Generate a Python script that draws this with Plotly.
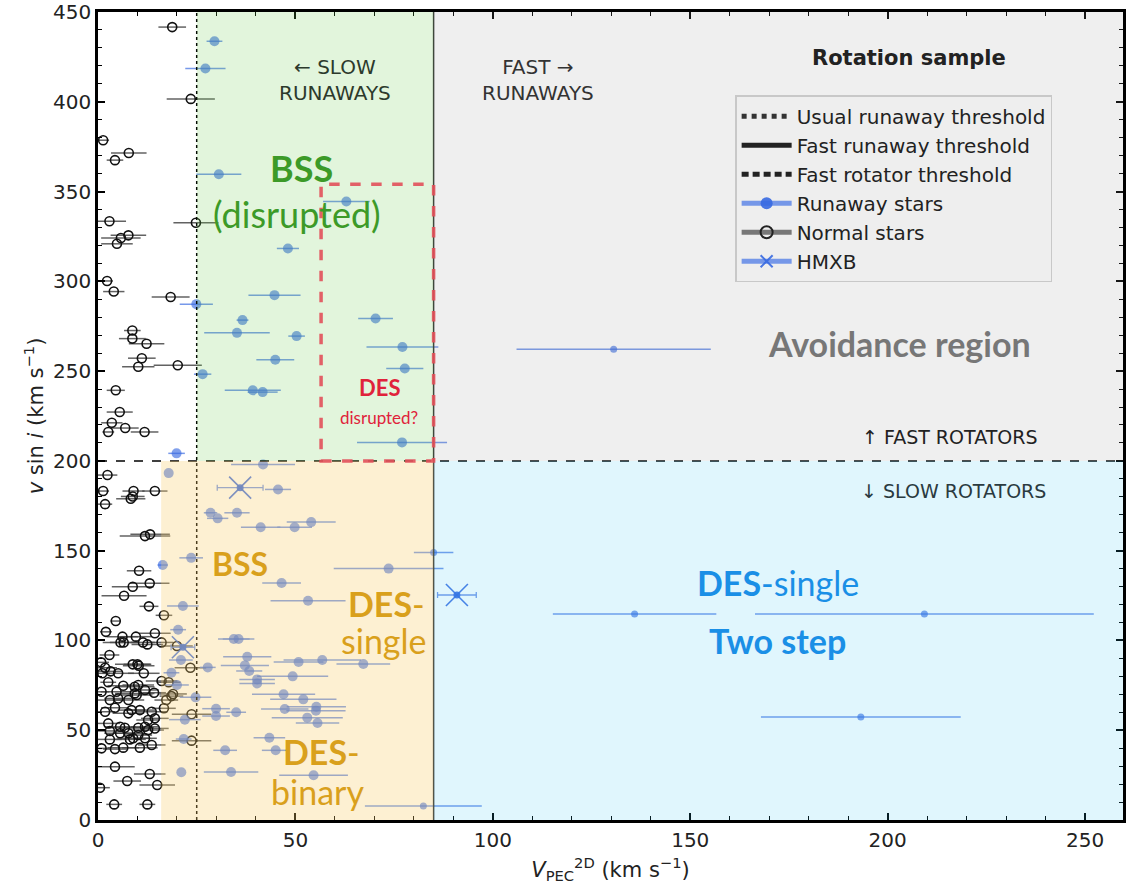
import plotly.graph_objects as go

# ---- Runaway stars: 2D peculiar velocity, v sin i, velocity uncertainty ----
run_x = [29.5, 27.2, 30.6, 62.9, 48.1, 44.7, 24.9, 36.6, 35.2, 50.3, 70.3, 77.1, 44.9, 77.7,
         26.5, 39.2, 41.7, 77.0, 19.9, 130.6,
         41.8, 17.9, 45.6, 28.5, 30.3, 35.2, 41.2, 49.8, 54.0, 85.0, 23.6, 16.4, 73.6, 46.5,
         53.2, 21.5, 20.3, 34.4, 35.6, 37.8, 27.8, 37.2, 38.3, 50.8, 56.8, 67.2, 40.3, 40.3,
         49.3, 47.0, 52.0, 29.9, 29.9, 35.0, 47.3, 55.3, 55.2, 53.0, 55.6, 43.4, 45.0, 32.2,
         33.7, 54.6, 82.4, 21.0, 18.6, 20.0, 24.7, 22.0, 21.7, 21.1, 135.9, 209.3, 193.2]
run_y = [433.7, 418.5, 359.6, 344.5, 318.3, 292.3, 287.3, 278.4, 271.3, 269.5, 279.3, 263.4, 256.3, 251.5,
         248.3, 239.3, 238.3, 210.3, 204.2, 262.2,
         198.0, 193.2, 184.1, 171.1, 168.0, 171.1, 163.0, 163.0, 165.9, 149.0, 146.0, 142.0, 140.0, 132.0,
         122.1, 119.2, 106.0, 100.8, 100.8, 90.9, 85.0, 86.1, 83.0, 88.0, 89.1, 86.9, 78.3, 76.0,
         80.0, 70.0, 67.2, 62.0, 57.9, 60.0, 61.8, 63.1, 60.9, 57.0, 54.0, 45.8, 38.8, 38.8,
         26.7, 24.9, 7.8, 89.1, 82.0, 75.2, 68.3, 55.9, 45.1, 26.6, 114.7, 114.7, 57.3]
run_err = [2.0, 5.1, 5.7, 5.9, 2.8, 6.6, 4.2, 1.5, 8.3, 2.1, 4.4, 9.1, 4.8, 4.7,
           2.2, 7.1, 3.8, 11.4, 2.1, 24.6,
           8.1, 0.0, 3.3, 1.7, 2.7, 3.2, 5.0, 4.4, 6.2, 5.0, 3.0, 1.3, 13.9, 4.9,
           9.5, 4.0, 2.0, 4.0, 4.0, 6.1, 2.0, 6.1, 3.3, 6.3, 9.8, 6.8, 4.5, 4.5,
           9.0, 8.0, 8.4, 3.5, 3.5, 2.5, 6.0, 7.5, 7.5, 9.0, 5.5, 4.0, 3.5, 3.0,
           6.9, 8.7, 14.8, 3.0, 2.0, 3.0, 4.0, 4.0, 2.0, 0.0, 20.7, 42.9, 25.3]

# ---- Normal (non-runaway) stars ----
norm_x = [18.8, 23.5, 1.3, 7.8, 4.3, 2.9, 24.8, 7.7, 5.8, 4.8, 2.3, 4.0, 18.4, 8.7, 8.7, 12.3,
          11.1, 10.2, 20.2, 4.5, 5.5, 3.5, 6.9, 2.6, 11.8,
          2.4, 1.3, 9.0, 14.4, 8.3, 8.8, 1.8, 11.9, 13.2, 10.4, 8.8, 13.1, 6.6, 12.9, 16.7, 4.5,
          2.0, 6.2, 9.6, 14.4, 5.7, 6.5, 11.4, 12.5, 16.1, 20.0, 2.9, 0.8, 1.8, 3.2, 5.1, 8.8,
          10.0, 10.3, 11.6, 1.1, 23.4, 2.6, 6.4, 9.3, 10.2, 11.9, 14.2, 16.1, 17.9, 0.9, 4.7,
          9.3, 19.0, 3.0, 5.1, 7.7, 9.8, 17.3, 18.6, 1.8, 4.3, 7.7, 8.5, 10.6, 13.6, 14.4, 12.7,
          16.7, 23.7, 2.6, 5.6, 6.8, 10.2, 11.9, 12.7, 14.4, 3.0, 5.6, 7.7, 10.2, 11.9, 8.9,
          3.0, 8.1, 13.6, 6.4, 10.6, 0.9, 4.3, 23.7, 4.3, 13.1, 15.0, 7.4, 0.5, 4.1, 12.5]
norm_y = [441.6, 401.6, 378.6, 371.5, 367.5, 333.5, 332.6, 325.6, 324.1, 320.9, 300.2, 294.3, 291.3,
          272.6, 268.1, 265.2, 257.2, 252.4, 253.3, 239.3, 227.2, 221.2, 218.3, 216.1, 216.1,
          192.1, 183.2, 183.2, 183.2, 178.9, 180.2, 175.9, 158.1, 159.1, 138.8, 129.9, 131.8, 124.9,
          119.0, 114.0, 110.8, 104.8, 102.1, 102.1, 104.0, 98.9, 98.9, 98.9, 97.8, 98.9, 96.9, 91.9,
          87.8, 84.8, 82.8, 81.7, 86.7, 86.7, 85.9, 81.7, 81.7, 84.8, 76.7, 74.8, 74.2, 75.2, 72.4,
          70.9, 77.4, 76.7, 71.4, 71.4, 70.5, 70.2, 66.8, 67.7, 66.8, 69.6, 66.8, 69.0, 60.3, 62.5,
          59.4, 61.2, 61.2, 60.3, 56.6, 55.7, 62.2, 58.9, 53.8, 51.9, 51.4, 51.4, 51.9, 50.1, 51.0,
          49.6, 48.3, 48.3, 47.3, 45.5, 45.5, 44.9, 44.9, 41.8, 40.3, 40.3, 39.9, 39.5, 44.2, 29.7,
          25.6, 19.5, 21.7, 18.0, 8.7, 8.7]
norm_err = [3.5, 6.1, 1.5, 4.5, 2.1, 4.2, 5.7, 4.5, 5.0, 4.0, 1.5, 2.7, 4.8, 2.1, 3.4, 4.5,
            3.5, 4.1, 6.1, 2.3, 3.3, 2.7, 3.4, 1.5, 3.5,
            2.5, 1.5, 2.8, 3.2, 3.7, 3.0, 1.8, 6.4, 5.0, 3.1, 5.3, 5.0, 5.7, 2.4, 2.1, 1.3,
            1.5, 4.0, 4.0, 4.0, 4.5, 3.5, 3.0, 4.0, 3.0, 4.0, 2.5, 2.0, 3.0, 3.0, 4.0, 4.5,
            3.5, 4.0, 4.0, 2.0, 4.0, 2.0, 4.0, 5.0, 4.0, 3.5, 3.0, 4.0, 3.0, 2.0, 4.0,
            5.0, 3.5, 3.0, 3.5, 4.0, 4.0, 3.0, 3.0, 2.5, 3.5, 4.0, 3.5, 4.0, 4.0, 3.5, 3.0,
            3.0, 5.0, 3.0, 4.0, 4.5, 4.0, 3.5, 4.0, 3.5, 3.0, 4.0, 4.0, 3.5, 3.0, 4.0,
            3.0, 4.0, 3.5, 4.0, 4.5, 2.0, 3.0, 5.0, 5.0, 4.0, 4.5, 3.5, 2.5, 2.0, 2.0]

# ---- High-mass X-ray binaries ----
hmxb_x = [36.0, 21.5, 90.9]
hmxb_y = [185.1, 96.2, 125.3]
hmxb_err = [5.8, 3.0, 4.9]

# ---- Thresholds and region limits (km/s) ----
usual_runaway = 25
fast_runaway = 85
fast_rotator = 200
bss_min_v = 16
des_box = (56.5, 85.0, 200, 354)
x_max, y_max = 259.6, 450

BLUE = "rgba(55,105,225,0.9)"
BLUE_ERR = "rgba(95,135,230,0.85)"
LABEL_FONT = "Lato"
AX_FONT = "DejaVu Sans"

fig = go.Figure()

# normal stars
fig.add_trace(go.Scatter(
    x=norm_x, y=norm_y, mode="markers", showlegend=False,
    error_x=dict(type="data", array=norm_err, color="rgba(70,70,70,0.85)", thickness=1.5, width=0),
    marker=dict(symbol="circle-open", size=9, color="#111111", line=dict(width=1.6)),
))

# runaway stars (faster stars drawn with slightly smaller dots)
run_size = [7 if v > 80 else 10 for v in run_x]
fig.add_trace(go.Scatter(
    x=run_x, y=run_y, mode="markers", showlegend=False,
    error_x=dict(type="data", array=run_err, color=BLUE_ERR, thickness=1.5, width=0),
    marker=dict(symbol="circle", size=run_size, color=BLUE, line=dict(width=0)),
))

# HMXB
fig.add_trace(go.Scatter(
    x=hmxb_x, y=hmxb_y, mode="markers", showlegend=False,
    error_x=dict(type="data", array=hmxb_err, color=BLUE_ERR, thickness=1.3, width=3),
    marker=dict(symbol="x-thin", size=22, color=BLUE, line=dict(width=1.6, color=BLUE)),
))
fig.add_trace(go.Scatter(
    x=hmxb_x, y=hmxb_y, mode="markers", showlegend=False, hoverinfo="skip",
    marker=dict(symbol="circle", size=7, color=BLUE),
))

# legend entries
fig.add_trace(go.Scatter(x=[None], y=[None], mode="lines", name="Usual runaway threshold",
                         line=dict(color="#333", width=1.2, dash="dot")))
fig.add_trace(go.Scatter(x=[None], y=[None], mode="lines", name="Fast runaway threshold",
                         line=dict(color="#222", width=1.5)))
fig.add_trace(go.Scatter(x=[None], y=[None], mode="lines", name="Fast rotator threshold",
                         line=dict(color="#222", width=1.3, dash="7px,4px")))
fig.add_trace(go.Scatter(x=[None], y=[None], mode="lines+markers", name="Runaway stars",
                         line=dict(color=BLUE_ERR, width=1.2),
                         marker=dict(size=9, color=BLUE)))
fig.add_trace(go.Scatter(x=[None], y=[None], mode="lines+markers", name="Normal stars",
                         line=dict(color="#777", width=1.2),
                         marker=dict(symbol="circle-open", size=8, color="#222", line=dict(width=1.5))))
fig.add_trace(go.Scatter(x=[None], y=[None], mode="lines+markers", name="HMXB",
                         line=dict(color=BLUE_ERR, width=1.0),
                         marker=dict(symbol="x-thin", size=20, color=BLUE, line=dict(width=1.5, color=BLUE))))

shapes = []
# threshold lines (under the translucent regions)
shapes.append(dict(type="line", layer="above", x0=usual_runaway, x1=usual_runaway, y0=0, y1=y_max,
                   line=dict(color="black", width=1.5, dash="dot")))
shapes.append(dict(type="line", layer="above", x0=fast_runaway, x1=fast_runaway, y0=0, y1=y_max,
                   line=dict(color="#333", width=1.5)))
shapes.append(dict(type="line", layer="above", x0=0, x1=x_max, y0=fast_rotator, y1=fast_rotator,
                   line=dict(color="black", width=1.5, dash="dash")))

# translucent regions
regions = [
    (usual_runaway, fast_runaway, fast_rotator, y_max, "rgb(110,205,80)", 0.2),
    (bss_min_v, fast_runaway, 0, fast_rotator, "rgb(248,205,105)", 0.3),
    (fast_runaway, x_max + 5, fast_rotator, y_max, "rgb(148,148,148)", 0.15),
    (fast_runaway, x_max + 5, 0, fast_rotator, "rgb(48,195,242)", 0.15),
]
for x0, x1, y0, y1, col, op in regions:
    shapes.append(dict(type="rect", layer="above", x0=x0, x1=x1, y0=y0, y1=y1,
                       fillcolor=col, opacity=op, line=dict(width=0)))

# disrupted-DES box
shapes.append(dict(type="rect", layer="above", x0=des_box[0], x1=des_box[1], y0=des_box[2], y1=des_box[3],
                   line=dict(color="rgba(226,80,90,0.9)", width=3.5, dash="dash")))

ann = []


def label(x, y, text, size, color, family=LABEL_FONT, bold=False):
    t = f"<b>{text}</b>" if bold else text
    ann.append(dict(x=x, y=y, xref="x", yref="y", text=t, showarrow=False,
                    font=dict(family=family, size=size, color=color), align="center"))


label(60.1, 412, "← SLOW<br>RUNAWAYS", 20, "#2c3a2c", family=AX_FONT)
label(111.4, 412, "FAST →<br>RUNAWAYS", 20, "#333333", family=AX_FONT)
label(205.5, 424.3, "Rotation sample", 21, "#222222", family=AX_FONT, bold=True)
label(51.5, 363, "BSS", 36, "#3c9a28", bold=True)
label(50.5, 337.4, "(disrupted)", 36, "#3c9a28")
label(71.2, 241.1, "DES", 22, "#e0233b", bold=True)
label(71.2, 224.4, "disrupted?", 17, "#e0233b")
label(203.0, 265.6, "Avoidance region", 34, "#777777", bold=True)
label(215.7, 213.3, "↑ FAST ROTATORS", 19, "#222222", family=AX_FONT)
label(216.7, 183.2, "↓ SLOW ROTATORS", 19, "#2a3a40", family=AX_FONT)
label(35.9, 143.1, "BSS", 32, "#d9a01c", bold=True)
label(73.0, 120.3, "<b>DES</b>-", 34, "#d9a01c")
label(72.5, 99.7, "single", 34, "#d9a01c")
label(56.6, 37.9, "<b>DES</b>-", 34, "#d9a01c")
label(55.6, 15.6, "binary", 34, "#d9a01c")
label(172.2, 132.5, "<b>DES</b>-single", 34, "#1a8fe6")
label(172.2, 100.2, "Two step", 34, "#1a8fe6", bold=True)

axis_common = dict(
    showgrid=False, zeroline=False, showline=True, linecolor="black", linewidth=2.5,
    mirror="allticks", ticks="inside", ticklen=7, tickwidth=1.5, tickcolor="black",
    tickfont=dict(family=AX_FONT, size=20, color="#222"),
)
fig.update_layout(
    width=1126, height=892,
    margin=dict(l=98, r=0, t=12, b=72),
    paper_bgcolor="white", plot_bgcolor="white",
    shapes=shapes, annotations=ann,
    xaxis=dict(range=[0, x_max], dtick=50, tick0=0,
               minor=dict(dtick=10, ticks="inside", ticklen=4, tickwidth=1.2, tickcolor="black"),
               title=dict(text="<i>V</i><sub>PEC</sub><sup>2D</sup> (km s<sup>−1</sup>)",
                          font=dict(family=AX_FONT, size=21, color="#222"), standoff=12),
               **axis_common),
    yaxis=dict(range=[0, y_max], dtick=50, tick0=0,
               minor=dict(dtick=10, ticks="inside", ticklen=4, tickwidth=1.2, tickcolor="black"),
               title=dict(text="<i>v</i> sin <i>i</i> (km s<sup>−1</sup>)",
                          font=dict(family=AX_FONT, size=21, color="#222"), standoff=4),
               **axis_common),
    legend=dict(x=0.6216, y=0.897, xanchor="left", yanchor="top",
                bgcolor="#eeeeee", bordercolor="#c8c8c8", borderwidth=1.5,
                font=dict(family=AX_FONT, size=20, color="#222"),
                itemsizing="constant", itemwidth=50, tracegroupgap=0),
    showlegend=True,
)

fig.write_html("out.html")
